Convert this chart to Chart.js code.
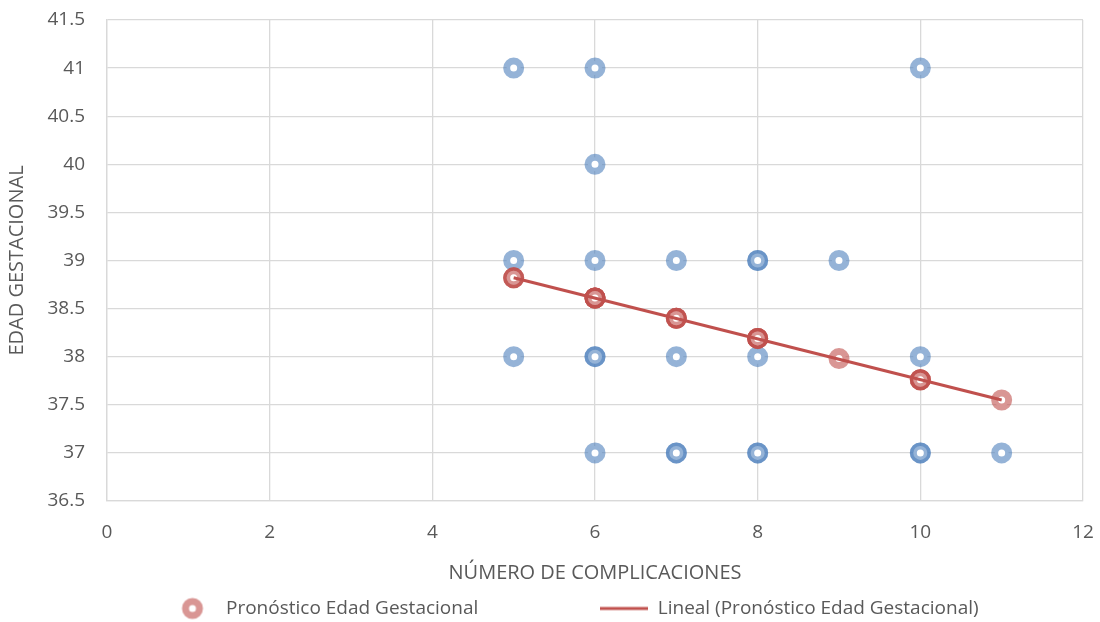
<!DOCTYPE html>
<html><head><meta charset="utf-8">
<script src="https://cdn.jsdelivr.net/npm/chart.js@4/dist/chart.umd.min.js"></script>
<style>html,body{margin:0;padding:0;background:#fff}#wrap{width:1100px;height:622px}</style>
</head><body><div id="wrap"><canvas id="c" width="1100" height="622"></canvas></div>
<script>
// Observed values (x = number of complications, y = gestational age); duplicates = overlapping observations
const obsX = [5,5,5, 6,6,6,6,6,6, 7,7,7,7, 8,8,8,8,8, 9, 10,10,10,10, 11];
const obsY = [41,39,38, 41,40,39,38,38,37, 39,38,37,37, 39,39,38,37,37, 39, 41,38,37,37, 37];
// Forecast values (one per observation)
const fcX = [5,5,5, 6,6,6,6,6,6, 7,7,7,7, 8,8,8,8,8, 9, 10,10,10,10, 11];
const fcLevels = {5:38.82, 6:38.61, 7:38.40, 8:38.19, 9:37.98, 10:37.76, 11:37.55};
const fcY = fcX.map(x => fcLevels[x]);
// Linear trend endpoints
const trendX = [5, 11];
const trendY = [38.82, 37.55];
const xTicks = [0,2,4,6,8,10,12];
const yTicks = [36.5,37,37.5,38,38.5,39,39.5,40,40.5,41,41.5];

const FONT = '"Open Sans", "Liberation Sans", sans-serif';
const GREY = '#595959';
const toPts = (xs, ys) => xs.map((x,i) => ({x, y: ys[i]}));

// legend glyphs
const BOXW = 48;
function ringGlyph(){
  const c = document.createElement('canvas'); c.width = BOXW; c.height = 24;
  const g = c.getContext('2d');
  g.beginPath(); g.arc(BOXW/2, 12, 7, 0, Math.PI*2);
  g.fillStyle = '#fff'; g.fill();
  g.lineWidth = 7; g.strokeStyle = 'rgba(192,80,77,0.6)'; g.stroke();
  return c;
}
function lineGlyph(){
  const c = document.createElement('canvas'); c.width = BOXW; c.height = 24;
  const g = c.getContext('2d');
  g.beginPath(); g.moveTo(0, 12); g.lineTo(BOXW, 12);
  g.lineWidth = 3; g.strokeStyle = '#C0504D'; g.stroke();
  return c;
}
const RING = ringGlyph(), LINE = lineGlyph();

const fixLegend = {
  id: 'fixLegend',
  beforeLayout(chart){
    const lg = chart.legend;
    if (lg && !lg._fixed){
      const f = lg.fit.bind(lg);
      lg.fit = function(){ f(); this.height = 31; };
      lg._fixed = true;
    }
  }
};

const EM = '\u2003';

new Chart(document.getElementById('c'), {
  type: 'scatter',
  data: {
    datasets: [
      {
        label: 'Edad Gestacional',
        data: toPts(obsX, obsY),
        order: 3,
        pointRadius: 7, pointHoverRadius: 7,
        borderWidth: 7, pointBorderWidth: 7,
        borderColor: 'rgba(79,129,189,0.6)',
        backgroundColor: '#ffffff'
      },
      {
        label: 'Pronóstico Edad Gestacional',
        data: toPts(fcX, fcY),
        order: 2,
        pointRadius: 7, pointHoverRadius: 7,
        borderWidth: 7, pointBorderWidth: 7,
        borderColor: 'rgba(192,80,77,0.6)',
        backgroundColor: '#ffffff'
      },
      {
        type: 'line',
        label: 'Lineal (Pronóstico Edad Gestacional)',
        data: toPts(trendX, trendY),
        order: 1,
        showLine: true,
        borderColor: '#C0504D',
        backgroundColor: '#C0504D',
        borderWidth: 3,
        pointRadius: 0,
        fill: false,
        tension: 0
      }
    ]
  },
  options: {
    responsive: false,
    animation: false,
    layout: { padding: { top: 20, right: 17, left: 0, bottom: 0 } },
    plugins: {
      tooltip: { enabled: false },
      legend: {
        position: 'bottom',
        fullSize: false,
        labels: {
          font: { family: FONT, size: 19 },
          color: GREY,
          usePointStyle: true,
          pointStyleWidth: BOXW,
          boxHeight: 19,
          padding: 8,
          generateLabels(chart){
            return [
              { text: 'Pronóstico Edad Gestacional' + EM.repeat(6), datasetIndex: 1, pointStyle: RING,
                fillStyle: 'rgba(192,80,77,0.6)', strokeStyle: 'rgba(0,0,0,0)', lineWidth: 0, fontColor: GREY },
              { text: 'Lineal (Pronóstico Edad Gestacional)' + EM.repeat(2) + ' ', datasetIndex: 2, pointStyle: LINE,
                fillStyle: '#C0504D', strokeStyle: '#C0504D', lineWidth: 3, fontColor: GREY }
            ];
          }
        }
      }
    },
    scales: {
      x: {
        type: 'linear', min: 0, max: 12,
        afterBuildTicks: s => { s.ticks = xTicks.map(v => ({value: v})); },
        afterFit: s => { s.height = 90; s.paddingLeft = 0; s.paddingRight = 0; },
        grid: { color: '#D9D9D9', lineWidth: 1.3, drawTicks: false },
        border: { color: '#D9D9D9', width: 1.3 },
        ticks: { font: { family: FONT, size: 19 }, color: GREY, padding: 20,
                 callback: v => String(v) },
        title: { display: true, text: 'NÚMERO DE COMPLICACIONES', color: GREY,
                 font: { family: FONT, size: 20 }, padding: { top: 0, bottom: 6 } }
      },
      y: {
        type: 'linear', min: 36.5, max: 41.5,
        afterBuildTicks: s => { s.ticks = yTicks.map(v => ({value: v})); },
        afterFit: s => { s.width = 107; s.paddingTop = 0; s.paddingBottom = 0; },
        grid: { color: '#D9D9D9', lineWidth: 1.3, drawTicks: false },
        border: { color: '#D9D9D9', width: 1.3 },
        ticks: { font: { family: FONT, size: 19 }, color: GREY, padding: 22,
                 callback: v => String(v) },
        title: { display: true, text: 'EDAD GESTACIONAL', color: GREY,
                 font: { family: FONT, size: 20 }, padding: { top: 5, bottom: 0 } }
      }
    }
  },
  plugins: [fixLegend]
});
</script>
</body></html>
